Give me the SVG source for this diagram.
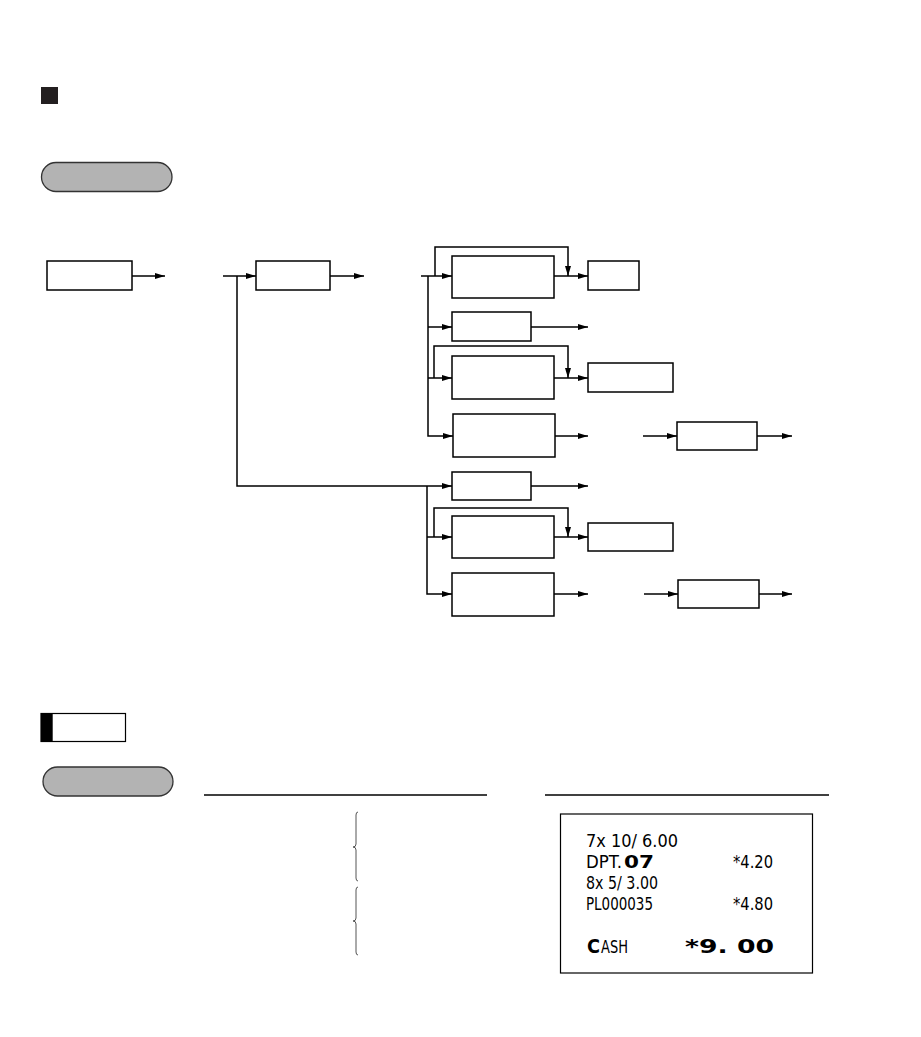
<svg xmlns="http://www.w3.org/2000/svg" width="921" height="1037" viewBox="0 0 921 1037">
<style>
.box{fill:#fff;stroke:#000;stroke-width:1.5}
.ln{fill:none;stroke:#000;stroke-width:1.5}
.pill{fill:#b3b3b3;stroke:#333;stroke-width:1.3}
.br{fill:none;stroke:#555;stroke-width:1}
.rc{font-family:"DejaVu Sans Condensed","Liberation Sans Narrow","Liberation Sans",sans-serif;font-size:18px;fill:#000}
.rw{font-family:"DejaVu Sans","Liberation Sans",sans-serif;font-weight:bold;fill:#000}
</style>
<defs>
<marker id="ah" markerUnits="userSpaceOnUse" markerWidth="11" markerHeight="7" refX="10" refY="3" orient="auto">
<path d="M0,0 L10,3 L0,6 z" fill="#000"/>
</marker>
</defs>
<rect width="921" height="1037" fill="#fff"/>
<g id="header">
<rect x="41" y="87" width="17" height="17" fill="#231f20"/>
<rect class="pill" x="41.5" y="162.5" width="130.5" height="29" rx="14.5"/>
</g>
<g id="connectors" marker-end="url(#ah)">
<path class="ln" d="M132,276 H165"/>
<path class="ln" d="M223,276 H256"/>
<path class="ln" d="M330,276 H364"/>
<path class="ln" d="M237,276 V486 H452"/>
<path class="ln" d="M421,276 H452"/>
<path class="ln" d="M428,276 V436 H453"/>
<path class="ln" d="M428,327 H452"/>
<path class="ln" d="M428,378 H452"/>
<path class="ln" d="M435,276 V247 H568 V276"/>
<path class="ln" d="M554,276 H588"/>
<path class="ln" d="M531,327 H588"/>
<path class="ln" d="M434,378 V346 H568 V378"/>
<path class="ln" d="M554,378 H588"/>
<path class="ln" d="M555,436 H588"/>
<path class="ln" d="M643,436 H677"/>
<path class="ln" d="M757,436 H792"/>
<path class="ln" d="M427,486 V594 H452"/>
<path class="ln" d="M531,486 H588"/>
<path class="ln" d="M434,537 V508 H568 V537"/>
<path class="ln" d="M427,537 H452"/>
<path class="ln" d="M554,537 H588"/>
<path class="ln" d="M554,594 H588"/>
<path class="ln" d="M644,594 H678"/>
<path class="ln" d="M759,594 H792"/>
</g>
<g id="n1"><rect class="box" x="47" y="261" width="85" height="29"/></g>
<g id="n2"><rect class="box" x="256" y="261" width="74" height="29"/></g>
<g id="nA"><rect class="box" x="452" y="256" width="102" height="42"/></g>
<g id="nB"><rect class="box" x="588" y="261" width="51" height="29"/></g>
<g id="nC"><rect class="box" x="452" y="312" width="79" height="29"/></g>
<g id="nD"><rect class="box" x="452" y="356" width="102" height="43"/></g>
<g id="nE"><rect class="box" x="588" y="363" width="85" height="29"/></g>
<g id="nF"><rect class="box" x="453" y="414" width="102" height="43"/></g>
<g id="nG"><rect class="box" x="677" y="422" width="80" height="28"/></g>
<g id="nH"><rect class="box" x="452" y="472" width="79" height="28"/></g>
<g id="nI"><rect class="box" x="452" y="516" width="102" height="42"/></g>
<g id="nJ"><rect class="box" x="588" y="523" width="85" height="28"/></g>
<g id="nK"><rect class="box" x="452" y="573" width="102" height="43"/></g>
<g id="nL"><rect class="box" x="678" y="580" width="81" height="28"/></g>
<g id="example">
<rect x="41" y="713.5" width="84.5" height="28" fill="#fff" stroke="#000" stroke-width="1.2"/>
<rect x="41" y="713.5" width="11.7" height="28" fill="#000"/>
<rect class="pill" x="43" y="767" width="130" height="29" rx="14.5"/>
<path class="ln" d="M204,795 H487"/>
<path class="ln" d="M545,795 H829"/>
<path class="br" d="M358,812 Q356,812 356,815 V844 Q356,847 353,847 Q356,847 356,850 V878 Q356,881 358,881"/>
<path class="br" d="M358,887 Q356,887 356,890 V918 Q356,921 353,921 Q356,921 356,924 V952 Q356,955 358,955"/>
</g>
<g id="receipt">
<rect x="560.5" y="814" width="252" height="159" fill="#fff" stroke="#000" stroke-width="1.2"/>
<text class="rc" x="586" y="847" textLength="92" lengthAdjust="spacingAndGlyphs">7x 10/ 6.00</text>
<text class="rc" x="586" y="868" textLength="36" lengthAdjust="spacingAndGlyphs">DPT.</text>
<text class="rw" x="624" y="868" font-size="18" textLength="30" lengthAdjust="spacingAndGlyphs">07</text>
<text class="rc" x="733" y="868" textLength="40" lengthAdjust="spacingAndGlyphs">*4.20</text>
<text class="rc" x="586" y="889" textLength="72" lengthAdjust="spacingAndGlyphs">8x 5/ 3.00</text>
<text class="rc" x="586" y="910" textLength="67" lengthAdjust="spacingAndGlyphs">PL000035</text>
<text class="rc" x="733" y="910" textLength="40" lengthAdjust="spacingAndGlyphs">*4.80</text>
<text class="rw" x="587" y="953" font-size="19" textLength="13" lengthAdjust="spacingAndGlyphs">C</text>
<text class="rc" x="601" y="953" textLength="27" lengthAdjust="spacingAndGlyphs">ASH</text>
<text class="rw" x="685" y="953" font-size="19" textLength="89" lengthAdjust="spacingAndGlyphs">*9. 00</text>
</g>
</svg>
